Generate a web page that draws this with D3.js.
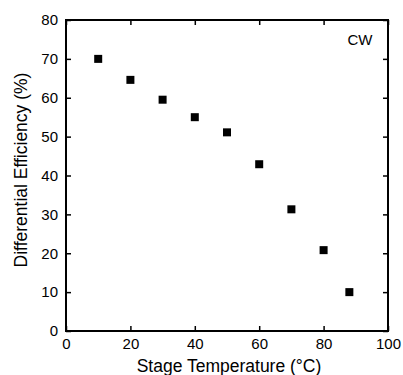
<!DOCTYPE html>
<html><head><meta charset="utf-8">
<script src="https://cdn.jsdelivr.net/npm/d3@7"></script>
<style>body{margin:0;background:#fff}</style>
</head><body>
<svg id="c" width="403" height="375"></svg>
<script>
const temperature = [10, 20, 30, 40, 50, 60, 70, 80, 88];
const efficiency = [70.0, 64.6, 59.5, 55.0, 51.1, 42.9, 31.3, 20.8, 10.0];
const xTicks = [0, 20, 40, 60, 80, 100];
const yTicks = [0, 10, 20, 30, 40, 50, 60, 70, 80];
const label = "CW";

const svg = d3.select("#c");
const L = 66, R = 388, T = 20, B = 331;
const x = d3.scaleLinear().domain([0, 100]).range([L, R]);
const y = d3.scaleLinear().domain([0, 80]).range([B, T]);
const font = "Arial, 'Liberation Sans', sans-serif";

function styleAxis(g) {
  g.selectAll("path.domain").remove();
  g.selectAll(".tick line").attr("stroke", "#000").attr("stroke-width", 1.5);
  g.selectAll(".tick text").attr("font-family", font).attr("font-size", 15).attr("fill", "#000");
}
svg.append("g").attr("transform", `translate(0,${B})`)
  .call(d3.axisBottom(x).tickValues(xTicks).tickSizeInner(-5).tickSizeOuter(0).tickPadding(7))
  .call(styleAxis);
svg.append("g").attr("transform", `translate(0,${T})`)
  .call(d3.axisTop(x).tickValues(xTicks).tickSizeInner(-5).tickSizeOuter(0).tickFormat(""))
  .call(styleAxis);
svg.append("g").attr("transform", `translate(${L},0)`)
  .call(d3.axisLeft(y).tickValues(yTicks).tickSizeInner(-5).tickSizeOuter(0).tickPadding(8))
  .call(styleAxis);
svg.append("g").attr("transform", `translate(${R},0)`)
  .call(d3.axisRight(y).tickValues(yTicks).tickSizeInner(-5).tickSizeOuter(0).tickFormat(""))
  .call(styleAxis);

svg.append("rect").attr("x", L).attr("y", T).attr("width", R - L).attr("height", B - T)
  .attr("fill", "none").attr("stroke", "#000").attr("stroke-width", 2);

const s = 8;
svg.append("g").selectAll("rect").data(temperature).join("rect")
  .attr("x", (d) => x(d) - s / 2)
  .attr("y", (d, i) => y(efficiency[i]) - s / 2)
  .attr("width", s).attr("height", s).attr("fill", "#000");

svg.append("text").attr("x", 360).attr("y", 45).attr("text-anchor", "middle")
  .attr("font-family", font).attr("font-size", 15).text(label);

svg.append("text").attr("x", 229).attr("y", 372).attr("text-anchor", "middle")
  .attr("font-family", font).attr("font-size", 17.5).text("Stage Temperature (°C)");
svg.append("text").attr("transform", `translate(27,170) rotate(-90)`)
  .attr("text-anchor", "middle").attr("font-family", font).attr("font-size", 17.5)
  .text("Differential Efficiency (%)");
</script>
</body></html>
